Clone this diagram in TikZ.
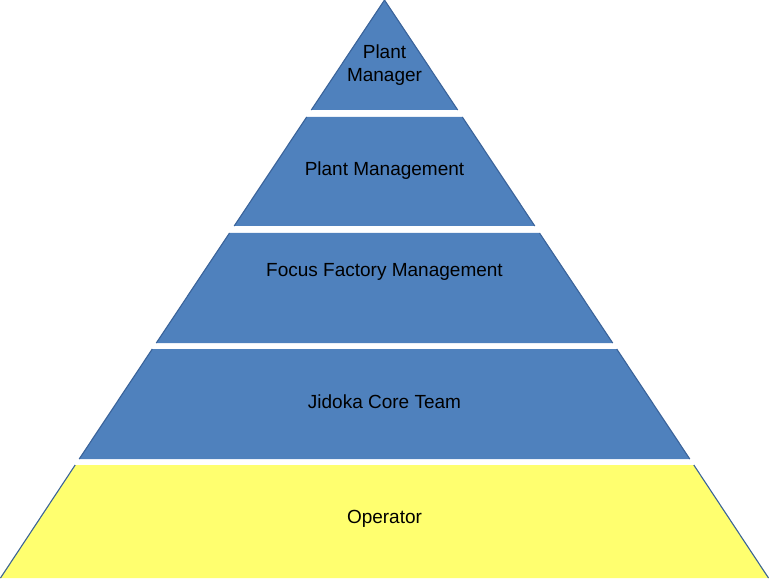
\documentclass[tikz,border=0pt]{standalone}
\usepackage{fontspec}
\setmainfont{Liberation Sans}
\definecolor{bandblue}{HTML}{4F81BD}
\definecolor{bandyellow}{HTML}{FFFF6F}
\definecolor{edgeblue}{HTML}{3A639A}
\begin{document}
\begin{tikzpicture}[x=1pt,y=-1pt,
  side/.style={draw=edgeblue,line width=1.1pt},
  lbl/.style={font=\fontsize{19}{23}\selectfont,text=black,align=center,inner sep=0pt}]
\useasboundingbox (0,0) rectangle (769,580);
% bands
\fill[bandblue] (384.5,0) -- (457.7,110) -- (311.3,110) -- cycle;
\draw[side] (311.3,110) -- (384.5,0) -- (457.7,110);
\fill[bandblue] (306.7,117) -- (462.3,117) -- (534.8,226) -- (234.2,226) -- cycle;
\draw[side] (306.7,117) -- (234.2,226) (462.3,117) -- (534.8,226);
\fill[bandblue] (229.5,233) -- (539.5,233) -- (612.7,343) -- (156.3,343) -- cycle;
\draw[side] (229.5,233) -- (156.3,343) (539.5,233) -- (612.7,343);
\fill[bandblue] (152.3,349) -- (616.7,349) -- (689.8,459) -- (79.2,459) -- cycle;
\draw[side] (152.3,349) -- (79.2,459) (616.7,349) -- (689.8,459);
\fill[bandyellow] (75.2,465) -- (693.8,465) -- (769,578) -- (0,578) -- cycle;
\draw[side] (75.2,465) -- (0.5,578) (693.8,465) -- (768.5,578);
% labels
\node[lbl] (pm) at (384.5,65) {Plant\\Manager};
\node[lbl] (pmg) at (384.5,171) {Plant Management};
\node[lbl] (ffm) at (384.5,272) {Focus Factory Management};
\node[lbl] (jct) at (384.5,402) {Jidoka Core Team};
\node[lbl] (op) at (384.5,519) {Operator};
\end{tikzpicture}
\end{document}
